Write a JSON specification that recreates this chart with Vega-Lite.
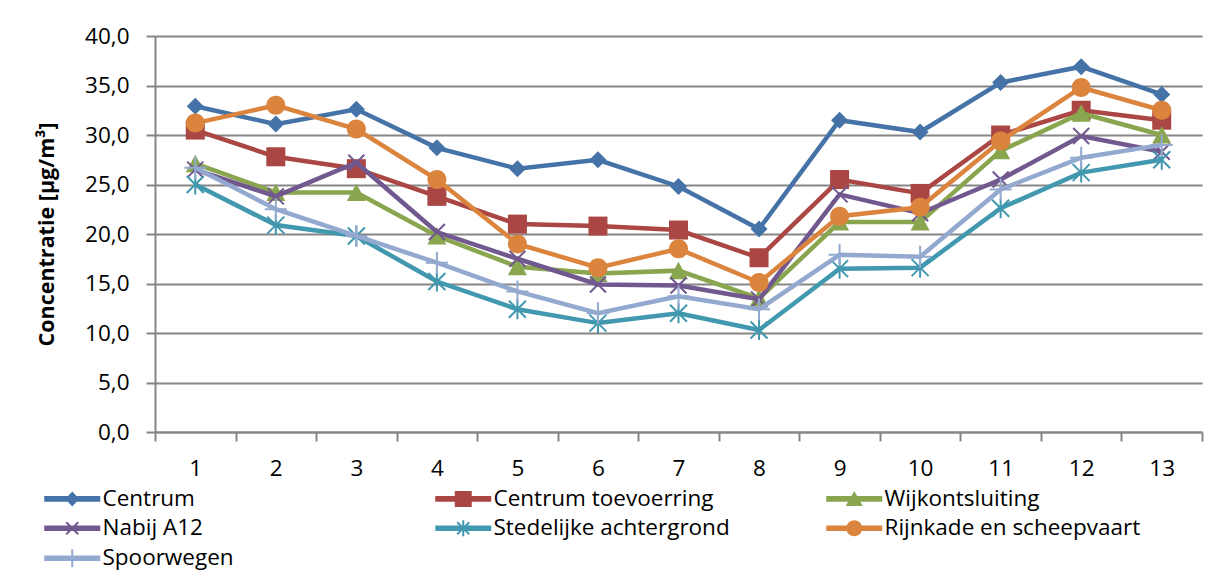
{
  "$schema": "https://vega.github.io/schema/vega-lite/v6.json",
  "width": 1047,
  "height": 396,
  "autosize": "none",
  "padding": {"left": 155, "top": 36, "right": 13, "bottom": 141},
  "background": "white",
  "config": {
    "font": "Open Sans",
    "view": {"stroke": null},
    "axis": {
      "labelFont": "Open Sans",
      "labelFontSize": 22.5,
      "labelColor": "#000000",
      "domainColor": "#868686",
      "domainWidth": 2,
      "tickColor": "#868686",
      "tickWidth": 2,
      "tickSize": 9,
      "gridColor": "#868686",
      "gridWidth": 2,
      "titleColor": "#000000"
    }
  },
  "datasets": {
    "d": [
      {"punt": 1, "reeks": "Centrum", "waarde": 32.9},
      {"punt": 2, "reeks": "Centrum", "waarde": 31.1},
      {"punt": 3, "reeks": "Centrum", "waarde": 32.6},
      {"punt": 4, "reeks": "Centrum", "waarde": 28.7},
      {"punt": 5, "reeks": "Centrum", "waarde": 26.6},
      {"punt": 6, "reeks": "Centrum", "waarde": 27.5},
      {"punt": 7, "reeks": "Centrum", "waarde": 24.8},
      {"punt": 8, "reeks": "Centrum", "waarde": 20.5},
      {"punt": 9, "reeks": "Centrum", "waarde": 31.5},
      {"punt": 10, "reeks": "Centrum", "waarde": 30.3},
      {"punt": 11, "reeks": "Centrum", "waarde": 35.3},
      {"punt": 12, "reeks": "Centrum", "waarde": 36.9},
      {"punt": 13, "reeks": "Centrum", "waarde": 34.1},
      {"punt": 1, "reeks": "Centrum toevoerring", "waarde": 30.5},
      {"punt": 2, "reeks": "Centrum toevoerring", "waarde": 27.8},
      {"punt": 3, "reeks": "Centrum toevoerring", "waarde": 26.6},
      {"punt": 4, "reeks": "Centrum toevoerring", "waarde": 23.8},
      {"punt": 5, "reeks": "Centrum toevoerring", "waarde": 21.0},
      {"punt": 6, "reeks": "Centrum toevoerring", "waarde": 20.8},
      {"punt": 7, "reeks": "Centrum toevoerring", "waarde": 20.4},
      {"punt": 8, "reeks": "Centrum toevoerring", "waarde": 17.6},
      {"punt": 9, "reeks": "Centrum toevoerring", "waarde": 25.5},
      {"punt": 10, "reeks": "Centrum toevoerring", "waarde": 24.1},
      {"punt": 11, "reeks": "Centrum toevoerring", "waarde": 30.0},
      {"punt": 12, "reeks": "Centrum toevoerring", "waarde": 32.5},
      {"punt": 13, "reeks": "Centrum toevoerring", "waarde": 31.5},
      {"punt": 1, "reeks": "Wijkontsluiting", "waarde": 27.1},
      {"punt": 2, "reeks": "Wijkontsluiting", "waarde": 24.2},
      {"punt": 3, "reeks": "Wijkontsluiting", "waarde": 24.2},
      {"punt": 4, "reeks": "Wijkontsluiting", "waarde": 19.8},
      {"punt": 5, "reeks": "Wijkontsluiting", "waarde": 16.7},
      {"punt": 6, "reeks": "Wijkontsluiting", "waarde": 16.0},
      {"punt": 7, "reeks": "Wijkontsluiting", "waarde": 16.3},
      {"punt": 8, "reeks": "Wijkontsluiting", "waarde": 13.5},
      {"punt": 9, "reeks": "Wijkontsluiting", "waarde": 21.2},
      {"punt": 10, "reeks": "Wijkontsluiting", "waarde": 21.2},
      {"punt": 11, "reeks": "Wijkontsluiting", "waarde": 28.4},
      {"punt": 12, "reeks": "Wijkontsluiting", "waarde": 32.2},
      {"punt": 13, "reeks": "Wijkontsluiting", "waarde": 30.0},
      {"punt": 1, "reeks": "Nabij A12", "waarde": 26.5},
      {"punt": 2, "reeks": "Nabij A12", "waarde": 23.8},
      {"punt": 3, "reeks": "Nabij A12", "waarde": 27.2},
      {"punt": 4, "reeks": "Nabij A12", "waarde": 20.2},
      {"punt": 5, "reeks": "Nabij A12", "waarde": 17.5},
      {"punt": 6, "reeks": "Nabij A12", "waarde": 14.9},
      {"punt": 7, "reeks": "Nabij A12", "waarde": 14.8},
      {"punt": 8, "reeks": "Nabij A12", "waarde": 13.4},
      {"punt": 9, "reeks": "Nabij A12", "waarde": 24.0},
      {"punt": 10, "reeks": "Nabij A12", "waarde": 22.1},
      {"punt": 11, "reeks": "Nabij A12", "waarde": 25.5},
      {"punt": 12, "reeks": "Nabij A12", "waarde": 29.9},
      {"punt": 13, "reeks": "Nabij A12", "waarde": 28.3},
      {"punt": 1, "reeks": "Stedelijke achtergrond", "waarde": 25.0},
      {"punt": 2, "reeks": "Stedelijke achtergrond", "waarde": 20.9},
      {"punt": 3, "reeks": "Stedelijke achtergrond", "waarde": 19.8},
      {"punt": 4, "reeks": "Stedelijke achtergrond", "waarde": 15.2},
      {"punt": 5, "reeks": "Stedelijke achtergrond", "waarde": 12.4},
      {"punt": 6, "reeks": "Stedelijke achtergrond", "waarde": 11.0},
      {"punt": 7, "reeks": "Stedelijke achtergrond", "waarde": 12.0},
      {"punt": 8, "reeks": "Stedelijke achtergrond", "waarde": 10.3},
      {"punt": 9, "reeks": "Stedelijke achtergrond", "waarde": 16.5},
      {"punt": 10, "reeks": "Stedelijke achtergrond", "waarde": 16.6},
      {"punt": 11, "reeks": "Stedelijke achtergrond", "waarde": 22.6},
      {"punt": 12, "reeks": "Stedelijke achtergrond", "waarde": 26.2},
      {"punt": 13, "reeks": "Stedelijke achtergrond", "waarde": 27.5},
      {"punt": 1, "reeks": "Rijnkade en scheepvaart", "waarde": 31.2},
      {"punt": 2, "reeks": "Rijnkade en scheepvaart", "waarde": 33.0},
      {"punt": 3, "reeks": "Rijnkade en scheepvaart", "waarde": 30.6},
      {"punt": 4, "reeks": "Rijnkade en scheepvaart", "waarde": 25.5},
      {"punt": 5, "reeks": "Rijnkade en scheepvaart", "waarde": 19.0},
      {"punt": 6, "reeks": "Rijnkade en scheepvaart", "waarde": 16.6},
      {"punt": 7, "reeks": "Rijnkade en scheepvaart", "waarde": 18.5},
      {"punt": 8, "reeks": "Rijnkade en scheepvaart", "waarde": 15.1},
      {"punt": 9, "reeks": "Rijnkade en scheepvaart", "waarde": 21.8},
      {"punt": 10, "reeks": "Rijnkade en scheepvaart", "waarde": 22.7},
      {"punt": 11, "reeks": "Rijnkade en scheepvaart", "waarde": 29.4},
      {"punt": 12, "reeks": "Rijnkade en scheepvaart", "waarde": 34.8},
      {"punt": 13, "reeks": "Rijnkade en scheepvaart", "waarde": 32.5},
      {"punt": 1, "reeks": "Spoorwegen", "waarde": 26.7},
      {"punt": 2, "reeks": "Spoorwegen", "waarde": 22.5},
      {"punt": 3, "reeks": "Spoorwegen", "waarde": 19.8},
      {"punt": 4, "reeks": "Spoorwegen", "waarde": 17.1},
      {"punt": 5, "reeks": "Spoorwegen", "waarde": 14.2},
      {"punt": 6, "reeks": "Spoorwegen", "waarde": 12.0},
      {"punt": 7, "reeks": "Spoorwegen", "waarde": 13.7},
      {"punt": 8, "reeks": "Spoorwegen", "waarde": 12.4},
      {"punt": 9, "reeks": "Spoorwegen", "waarde": 17.9},
      {"punt": 10, "reeks": "Spoorwegen", "waarde": 17.7},
      {"punt": 11, "reeks": "Spoorwegen", "waarde": 24.5},
      {"punt": 12, "reeks": "Spoorwegen", "waarde": 27.7},
      {"punt": 13, "reeks": "Spoorwegen", "waarde": 29.0}
    ]
  },
  "data": {"name": "d"},
  "encoding": {
    "x": {
      "field": "punt",
      "type": "ordinal",
      "bandPosition": 0.5,
      "scale": {"type": "band", "paddingInner": 0, "paddingOuter": 0},
      "axis": {
        "title": null,
        "labelAngle": 0,
        "tickBand": "extent",
        "labelPadding": 16,
        "grid": false
      }
    },
    "y": {
      "field": "waarde",
      "type": "quantitative",
      "scale": {"domain": [0, 40], "nice": false, "zero": true},
      "axis": {
        "title": "Concentratie [µg/m³]",
        "titleFont": "Open Sans",
        "titleFontSize": 21.5,
        "titleFontWeight": "bold",
        "titlePadding": 26,
        "values": [0, 5, 10, 15, 20, 25, 30, 35, 40],
        "labelExpr": "replace(format(datum.value, '.1f'), '.', ',')",
        "labelPadding": 17,
        "grid": true
      }
    }
  },
  "layer": [
    {
      "transform": [{"filter": "datum.punt > 100"}],
      "mark": {"type": "point", "filled": true, "opacity": 1},
      "encoding": {
        "color": {
          "field": "reeks",
          "type": "nominal",
          "scale": {
            "domain": ["Centrum", "Centrum toevoerring", "Wijkontsluiting", "Nabij A12", "Stedelijke achtergrond", "Rijnkade en scheepvaart", "Spoorwegen"],
            "range": ["#4573A7", "#AA4643", "#89A54E", "#71588F", "#4198AF", "#DB843D", "#93A9CF"]
          },
          "legend": {
            "title": null,
            "orient": "none",
            "legendX": -111,
            "legendY": 451,
            "direction": "horizontal",
            "columns": 3,
            "gridAlign": "all",
            "columnPadding": 73,
            "rowPadding": 5,
            "padding": 0,
            "symbolSize": 400,
            "symbolOpacity": 1,
            "symbolOffset": 17,
            "labelOffset": 19,
            "labelFont": "Open Sans",
            "labelFontSize": 22.5,
            "labelColor": "#000000",
            "labelLimit": 500
          }
        },
        "shape": {
          "field": "reeks",
          "type": "nominal",
          "scale": {
            "domain": ["Centrum", "Centrum toevoerring", "Wijkontsluiting", "Nabij A12", "Stedelijke achtergrond", "Rijnkade en scheepvaart", "Spoorwegen"],
            "range": [
              "M-2.8,-0.28L2.8,-0.28L2.8,0.28L-2.8,0.28ZM0,-0.75L0.7,0L0,0.75L-0.7,0Z",
              "M-2.8,-0.28L2.8,-0.28L2.8,0.28L-2.8,0.28ZM-0.85,-0.8L0.85,-0.8L0.85,0.8L-0.85,0.8Z",
              "M-2.8,-0.28L2.8,-0.28L2.8,0.28L-2.8,0.28ZM0,-0.8L0.85,0.7L-0.85,0.7Z",
              "M-2.8,-0.28L2.8,-0.28L2.8,0.28L-2.8,0.28ZM-0.67,-0.53L-0.53,-0.67L0.67,0.53L0.53,0.67ZM-0.67,0.53L0.53,-0.67L0.67,-0.53L-0.53,0.67Z",
              "M-2.8,-0.28L2.8,-0.28L2.8,0.28L-2.8,0.28ZM-0.67,-0.53L-0.53,-0.67L0.67,0.53L0.53,0.67ZM-0.67,0.53L0.53,-0.67L0.67,-0.53L-0.53,0.67ZM-0.1,-0.8L0.1,-0.8L0.1,0.8L-0.1,0.8Z",
              "M-2.8,-0.28L2.8,-0.28L2.8,0.28L-2.8,0.28ZM-0.8,0A0.8,0.8 0 1,1 0.8,0A0.8,0.8 0 1,1 -0.8,0Z",
              "M-2.8,-0.28L2.8,-0.28L2.8,0.28L-2.8,0.28ZM-0.1,-0.9L0.1,-0.9L0.1,0.9L-0.1,0.9Z"
            ]
          }
        }
      }
    },
    {"transform": [{"filter": "datum.reeks === 'Centrum'"}], "mark": {"type": "line", "color": "#4573A7", "strokeWidth": 4.5}},
    {"transform": [{"filter": "datum.reeks === 'Centrum'"}], "mark": {"type": "point", "filled": true, "opacity": 1, "color": "#4573A7", "size": 400, "shape": "M0,-0.85L0.85,0L0,0.85L-0.85,0Z"}},
    {"transform": [{"filter": "datum.reeks === 'Centrum toevoerring'"}], "mark": {"type": "line", "color": "#AA4643", "strokeWidth": 4.5}},
    {"transform": [{"filter": "datum.reeks === 'Centrum toevoerring'"}], "mark": {"type": "point", "filled": true, "opacity": 1, "color": "#AA4643", "size": 400, "shape": "M-0.95,-0.95L0.95,-0.95L0.95,0.95L-0.95,0.95Z"}},
    {"transform": [{"filter": "datum.reeks === 'Wijkontsluiting'"}], "mark": {"type": "line", "color": "#89A54E", "strokeWidth": 4.5}},
    {"transform": [{"filter": "datum.reeks === 'Wijkontsluiting'"}], "mark": {"type": "point", "filled": true, "opacity": 1, "color": "#89A54E", "size": 400, "shape": "M0,-0.9L0.95,0.85L-0.95,0.85Z"}},
    {"transform": [{"filter": "datum.reeks === 'Nabij A12'"}], "mark": {"type": "line", "color": "#71588F", "strokeWidth": 4.5}},
    {"transform": [{"filter": "datum.reeks === 'Nabij A12'"}], "mark": {"type": "point", "filled": false, "opacity": 1, "color": "#71588F", "strokeWidth": 2, "size": 400, "shape": "M-0.8,-0.8L0.8,0.8M-0.8,0.8L0.8,-0.8"}},
    {"transform": [{"filter": "datum.reeks === 'Stedelijke achtergrond'"}], "mark": {"type": "line", "color": "#4198AF", "strokeWidth": 4.5}},
    {"transform": [{"filter": "datum.reeks === 'Stedelijke achtergrond'"}], "mark": {"type": "point", "filled": false, "opacity": 1, "color": "#4198AF", "strokeWidth": 2, "size": 400, "shape": "M-0.85,-0.85L0.85,0.85M-0.85,0.85L0.85,-0.85M0,-1L0,1"}},
    {"transform": [{"filter": "datum.reeks === 'Rijnkade en scheepvaart'"}], "mark": {"type": "line", "color": "#DB843D", "strokeWidth": 4.5}},
    {"transform": [{"filter": "datum.reeks === 'Rijnkade en scheepvaart'"}], "mark": {"type": "point", "filled": true, "opacity": 1, "color": "#DB843D", "size": 400, "shape": "M-0.95,0A0.95,0.95 0 1,1 0.95,0A0.95,0.95 0 1,1 -0.95,0Z"}},
    {"transform": [{"filter": "datum.reeks === 'Spoorwegen'"}], "mark": {"type": "line", "color": "#93A9CF", "strokeWidth": 4.5}},
    {"transform": [{"filter": "datum.reeks === 'Spoorwegen'"}], "mark": {"type": "point", "filled": false, "opacity": 1, "color": "#93A9CF", "strokeWidth": 2, "size": 400, "shape": "M-1.1,0L1.1,0M0,-1.1L0,1.1"}}
  ]
}
